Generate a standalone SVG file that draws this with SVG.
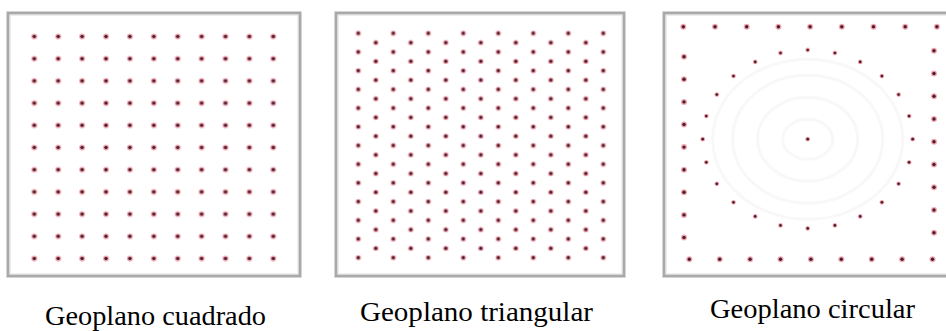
<svg xmlns="http://www.w3.org/2000/svg" width="946" height="331" viewBox="0 0 946 331">
  <style>
    .frame { fill: #ffffff; stroke: #a9a9a9; stroke-width: 3; }
    .inner { fill: none; stroke: #dcdcdc; stroke-width: 1; }
    .halo { fill: #f2a9b2; }
    .core { fill: #4e1c2c; }
    .ring { fill: none; stroke: #f8f8f8; stroke-width: 3; }
    .label { font-family: "Liberation Serif", "Times New Roman", serif; font-size: 28px; fill: #000000; }
  </style>
  <defs>
    <g id="dot">
      <circle class="halo" r="3"/>
      <circle class="core" r="1.7"/>
    </g>
    <g id="sdot">
      <circle class="halo" r="2.4"/>
      <circle class="core" r="1.35"/>
    </g>
    <pattern id="sq" patternUnits="userSpaceOnUse" x="22.35" y="25.4" width="23.9" height="22.2">
      <circle class="halo" cx="11.95" cy="11.1" r="3"/>
      <circle class="core" cx="11.95" cy="11.1" r="1.7"/>
    </pattern>
    <pattern id="tri" patternUnits="userSpaceOnUse" x="349.55" y="28.6" width="35" height="18.7">
      <circle class="halo" cx="8.75" cy="4.675" r="2.8"/>
      <circle class="core" cx="8.75" cy="4.675" r="1.6"/>
      <circle class="halo" cx="26.25" cy="14.025" r="2.8"/>
      <circle class="core" cx="26.25" cy="14.025" r="1.6"/>
    </pattern>
  </defs>

  <rect width="946" height="331" fill="#ffffff"/>

  <g id="geoplano-cuadrado">
    <rect class="frame" x="8" y="13" width="292" height="263"/>
    <rect class="inner" x="10" y="15" width="288" height="259"/>
    <rect x="22.35" y="25.4" width="262.9" height="244.2" fill="url(#sq)"/>
    <text class="label" x="45" y="325" textLength="221" lengthAdjust="spacingAndGlyphs">Geoplano cuadrado</text>
  </g>

  <g id="geoplano-triangular">
    <rect class="frame" x="336" y="13" width="288" height="263"/>
    <rect class="inner" x="338" y="15" width="284" height="259"/>
    <rect x="349.55" y="28.6" width="262.5" height="233.75" fill="url(#tri)"/>
    <text class="label" x="360" y="321" textLength="233" lengthAdjust="spacingAndGlyphs">Geoplano triangular</text>
  </g>

  <g id="geoplano-circular">
    <rect class="frame" x="664" y="13" width="290" height="263"/>
    <rect class="inner" x="666" y="15" width="290" height="259"/>
    <g id="rings">
      <ellipse class="ring" cx="807.7" cy="139.2" rx="25" ry="20"/>
      <ellipse class="ring" cx="807.7" cy="139.2" rx="50" ry="42"/>
      <ellipse class="ring" cx="807.7" cy="139.2" rx="75" ry="64"/>
      <ellipse class="ring" cx="807.7" cy="139.2" rx="95" ry="80"/>
    </g>
    <g id="border-pins">
      <use href="#dot" x="683.3" y="26.7"/>
      <use href="#dot" x="715" y="26.7"/>
      <use href="#dot" x="746.7" y="26.7"/>
      <use href="#dot" x="778.4" y="26.7"/>
      <use href="#dot" x="810.1" y="26.7"/>
      <use href="#dot" x="841.8" y="26.7"/>
      <use href="#dot" x="873.5" y="26.7"/>
      <use href="#dot" x="905.2" y="26.7"/>
      <use href="#dot" x="936.9" y="26.7"/>
      <use href="#dot" x="689.3" y="259.3"/>
      <use href="#dot" x="719.7" y="259.3"/>
      <use href="#dot" x="750.1" y="259.3"/>
      <use href="#dot" x="780.5" y="259.3"/>
      <use href="#dot" x="810.9" y="259.3"/>
      <use href="#dot" x="841.3" y="259.3"/>
      <use href="#dot" x="871.7" y="259.3"/>
      <use href="#dot" x="902.1" y="259.3"/>
      <use href="#dot" x="932.5" y="259.3"/>
      <use href="#dot" x="684" y="56.7"/>
      <use href="#dot" x="684" y="79.3"/>
      <use href="#dot" x="684" y="101.9"/>
      <use href="#dot" x="684" y="124.5"/>
      <use href="#dot" x="684" y="147.1"/>
      <use href="#dot" x="684" y="169.7"/>
      <use href="#dot" x="684" y="192.3"/>
      <use href="#dot" x="684" y="214.9"/>
      <use href="#dot" x="684" y="237.5"/>
      <use href="#dot" x="934" y="50.7"/>
      <use href="#dot" x="934" y="73.5"/>
      <use href="#dot" x="934" y="96.2"/>
      <use href="#dot" x="934" y="119"/>
      <use href="#dot" x="934" y="141.7"/>
      <use href="#dot" x="934" y="164.5"/>
      <use href="#dot" x="934" y="187.2"/>
      <use href="#dot" x="934" y="210"/>
      <use href="#dot" x="934" y="232.7"/>
    </g>
    <g id="circle-pins">
      <use href="#sdot" x="807.7" y="50"/>
      <use href="#sdot" x="834.9" y="53"/>
      <use href="#sdot" x="860.2" y="61.95"/>
      <use href="#sdot" x="881.9" y="76.1"/>
      <use href="#sdot" x="898.6" y="94.6"/>
      <use href="#sdot" x="909.1" y="116.1"/>
      <use href="#sdot" x="912.7" y="139.2"/>
      <use href="#sdot" x="909.1" y="162.3"/>
      <use href="#sdot" x="898.6" y="183.8"/>
      <use href="#sdot" x="881.9" y="202.3"/>
      <use href="#sdot" x="860.2" y="216.45"/>
      <use href="#sdot" x="834.9" y="225.4"/>
      <use href="#sdot" x="807.7" y="228.4"/>
      <use href="#sdot" x="780.5" y="225.4"/>
      <use href="#sdot" x="755.2" y="216.45"/>
      <use href="#sdot" x="733.5" y="202.3"/>
      <use href="#sdot" x="716.8" y="183.8"/>
      <use href="#sdot" x="706.3" y="162.3"/>
      <use href="#sdot" x="702.7" y="139.2"/>
      <use href="#sdot" x="706.3" y="116.1"/>
      <use href="#sdot" x="716.8" y="94.6"/>
      <use href="#sdot" x="733.5" y="76.1"/>
      <use href="#sdot" x="755.2" y="61.95"/>
      <use href="#sdot" x="780.5" y="53"/>
      <use href="#sdot" x="807.7" y="139.2"/>
    </g>
    <text class="label" x="710" y="318" textLength="205" lengthAdjust="spacingAndGlyphs">Geoplano circular</text>
  </g>
</svg>
